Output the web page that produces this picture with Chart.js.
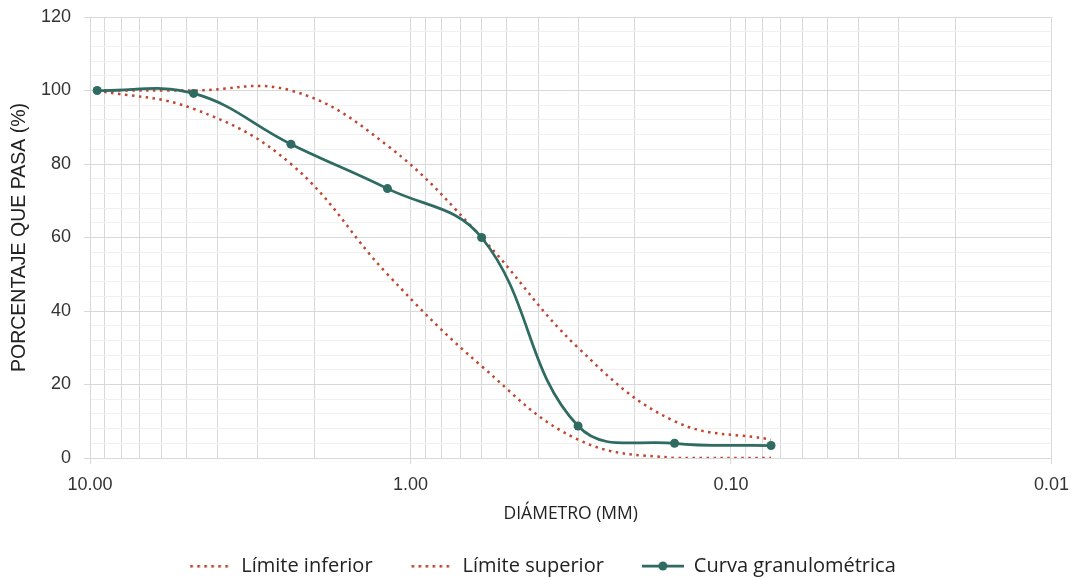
<!DOCTYPE html>
<html>
<head>
<meta charset="utf-8">
<script src="https://cdn.jsdelivr.net/npm/chart.js@4/dist/chart.umd.min.js"></script>
<style>
  html, body { margin: 0; padding: 0; background: #ffffff; }
  #wrap { width: 1079px; height: 580px; position: relative; }
</style>
</head>
<body>
<div id="wrap"><canvas id="c" width="1079" height="580"></canvas></div>
<script>
// ---- Data ----
const diametros = [9.5, 4.75, 2.36, 1.18, 0.6, 0.3, 0.15, 0.075];
const limiteInferior = [100, 95, 80, 50, 25, 5, 0, 0];
const limiteSuperior = [100, 100, 100, 85, 60, 30, 10, 5];
const curvaGranulometrica = [100, 99.2, 85.4, 73.3, 60, 8.7, 4.0, 3.4];
const xTickValues = [10, 9, 8, 7, 6, 5, 4, 3, 2, 1, 0.9, 0.8, 0.7, 0.6, 0.5, 0.4, 0.3, 0.2,
                     0.1, 0.09, 0.08, 0.07, 0.06, 0.05, 0.04, 0.03, 0.02, 0.01];
const yMin = 0, yMax = 120, yStep = 4, yLabelStep = 20;
const seriesNames = ['Límite inferior', 'Límite superior', 'Curva granulométrica'];

const RED = '#C0452F';
const TEAL = '#2F6B61';
const GRID = '#D9D9D9';
const GRID_MINOR = '#F0F0F0';
const PAD_LEFT = 32;

function toPoints(xs, ys) { return xs.map((x, i) => ({ x: x, y: ys[i] })); }
function isPow10(v) { const l = Math.log10(v); return Math.abs(l - Math.round(l)) < 1e-9; }

// legend symbols
function dottedSymbol() {
  const c = document.createElement('canvas'); c.width = 42; c.height = 10;
  const g = c.getContext('2d'); g.fillStyle = RED;
  for (let x = 1; x < 42; x += 7) g.fillRect(x, 4, 2.6, 2.6);
  return c;
}
function markerSymbol() {
  const c = document.createElement('canvas'); c.width = 42; c.height = 12;
  const g = c.getContext('2d');
  g.strokeStyle = TEAL; g.lineWidth = 2.75;
  g.beginPath(); g.moveTo(0, 6); g.lineTo(42, 6); g.stroke();
  g.fillStyle = TEAL; g.beginPath(); g.arc(21, 6, 4.5, 0, Math.PI * 2); g.fill();
  return c;
}
const legendSymbols = [dottedSymbol(), dottedSymbol(), markerSymbol()];

const dotted = {
  borderColor: RED, backgroundColor: RED, borderWidth: 2.5,
  borderDash: [2.5, 4.5], pointRadius: 0, pointHoverRadius: 0, tension: 0.4, fill: false
};

new Chart(document.getElementById('c'), {
  type: 'line',
  data: {
    datasets: [
      Object.assign({ label: seriesNames[0], data: toPoints(diametros, limiteInferior), order: 2 }, dotted),
      Object.assign({ label: seriesNames[1], data: toPoints(diametros, limiteSuperior), order: 1 }, dotted),
      {
        label: seriesNames[2], data: toPoints(diametros, curvaGranulometrica), order: 0,
        borderColor: TEAL, backgroundColor: TEAL, borderWidth: 2.75,
        pointRadius: 4.5, pointBackgroundColor: TEAL, pointBorderColor: TEAL, pointBorderWidth: 0,
        tension: 0.4, fill: false
      }
    ]
  },
  options: {
    responsive: false,
    animation: false,
    events: [],
    layout: { padding: { left: PAD_LEFT, right: 26, top: 17, bottom: -6 } },
    scales: {
      x: {
        type: 'logarithmic',
        reverse: true,
        min: 0.01, max: 10,
        afterBuildTicks: (s) => { s.ticks = xTickValues.map(v => ({ value: v, major: isPow10(v) })); },
        afterFit: (s) => { s.height = 60; },
        ticks: {
          autoSkip: false, maxRotation: 0, minRotation: 0, padding: 10,
          color: '#333333',
          font: { family: '"Liberation Sans", Arial, sans-serif', size: 18 },
          callback: (v) => isPow10(v) ? Number(v).toFixed(2) : ''
        },
        grid: {
          color: GRID, lineWidth: 1, drawTicks: true, tickLength: 6,
          tickColor: (ctx) => (ctx.tick && isPow10(ctx.tick.value)) ? GRID : 'rgba(0,0,0,0)'
        },
        border: { color: GRID, width: 1 },
        title: {
          display: true, text: 'DIÁMETRO (MM)', color: '#222222',
          font: { family: '"Open Sans", sans-serif', size: 17.5, lineHeight: 1 },
          padding: { top: 0, bottom: -4.75 }
        }
      },
      y: {
        min: yMin, max: yMax,
        afterFit: (s) => { s.width = 90 - PAD_LEFT; s.paddingTop = 0; s.paddingBottom = 0; },
        ticks: {
          stepSize: yStep, autoSkip: false, padding: 13, color: '#333333',
          font: { family: '"Liberation Sans", Arial, sans-serif', size: 18 },
          callback: (v) => (v % yLabelStep === 0) ? v : ''
        },
        grid: {
          color: (ctx) => (ctx.tick && ctx.tick.value % yLabelStep === 0) ? GRID : GRID_MINOR,
          lineWidth: 1, drawTicks: true, tickLength: 6,
          tickColor: (ctx) => (ctx.tick && ctx.tick.value % yLabelStep === 0) ? GRID : 'rgba(0,0,0,0)'
        },
        border: { color: GRID, width: 1 },
        title: {
          display: true, text: 'PORCENTAJE QUE PASA (%)', color: '#222222',
          font: { family: '"Liberation Sans", Arial, sans-serif', size: 19.5, lineHeight: 1 },
          padding: { top: 20 - PAD_LEFT - 9.75, bottom: 0 }
        }
      }
    },
    plugins: {
      tooltip: { enabled: false },
      legend: {
        display: true, position: 'bottom', align: 'center',
        labels: {
          usePointStyle: true, pointStyleWidth: 42, padding: 38,
          color: '#222222',
          font: { family: '"Open Sans", sans-serif', size: 20 },
          generateLabels: (chart) => chart.data.datasets.map((ds, i) => ({
            text: ds.label, datasetIndex: i, pointStyle: legendSymbols[i],
            fillStyle: ds.borderColor, strokeStyle: ds.borderColor, lineWidth: 0,
            hidden: false, fontColor: '#222222'
          }))
        }
      }
    }
  }
});
</script>
</body>
</html>
